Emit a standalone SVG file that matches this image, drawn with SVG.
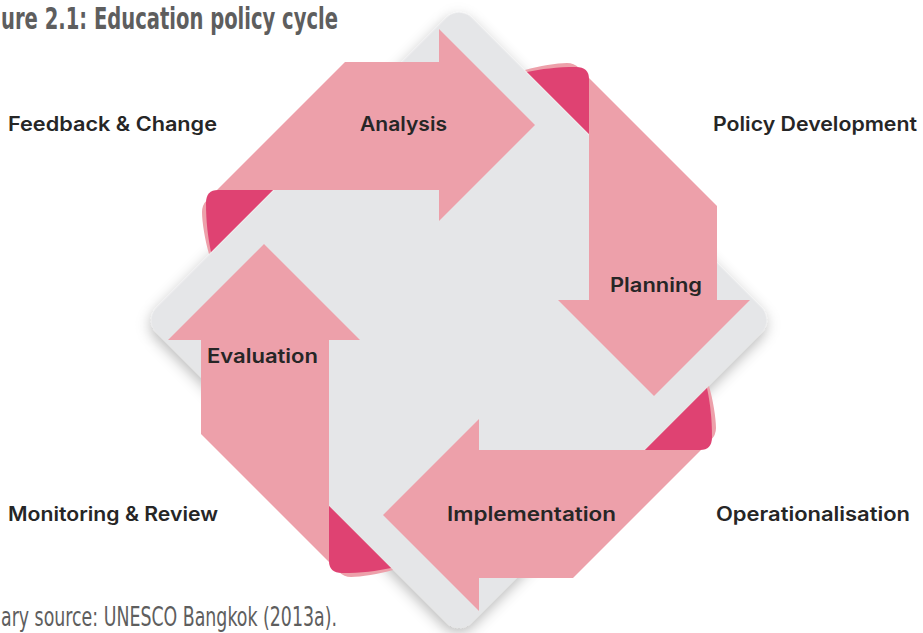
<svg xmlns="http://www.w3.org/2000/svg" width="923" height="633" viewBox="0 0 923 633">
  <style>
    .front { fill: #eda0aa; }
    .back { fill: #df4272; }
    .label { font-family: Inter, "Open Sans", "Liberation Sans", sans-serif; font-weight: 600; font-size: 19.5px; fill: #262626; text-anchor: middle; }
    .cond { font-family: "DejaVu Sans Condensed", "Liberation Sans Narrow", "Liberation Sans", sans-serif; fill: #5e5e5e; }
  </style>
  <defs>
    <filter id="soft" x="-20%" y="-20%" width="140%" height="140%">
      <feGaussianBlur in="SourceAlpha" stdDeviation="7"/>
      <feOffset dx="3" dy="4" result="b"/>
      <feFlood flood-color="#000" flood-opacity="0.28"/>
      <feComposite in2="b" operator="in"/>
      <feMerge>
        <feMergeNode/>
        <feMergeNode in="SourceGraphic"/>
      </feMerge>
    </filter>
    <!-- one arrow of the cycle; the other three are quarter turns of it -->
    <g id="arrowShape">
      <path class="front" d="M345,62 L439,62 L439,29 L535,125 L439,221 L439,190 L273,190 L209,254 C205,240 202,222 202,212 Q202,205 207,200 Z"/>
      <path class="back" d="M273,190 L218,190 Q206,190 206,203 C206,222 208,238 211,252 Z"/>
    </g>
  </defs>

  <text class="cond" x="1" y="29" font-size="31" font-weight="bold" textLength="337" lengthAdjust="spacingAndGlyphs">ure 2.1: Education policy cycle</text>

  <!-- grey base tile -->
  <g id="base">
    <rect x="236.3" y="97.3" width="445.5" height="445.5" rx="18" fill="#e5e6e8" transform="rotate(45 459 320)" filter="url(#soft)"/>
  </g>

  <g id="connectors">
    <use id="arrow-analysis" href="#arrowShape"/>
    <use id="arrow-planning" href="#arrowShape" transform="rotate(90 459 320)"/>
    <use id="arrow-implementation" href="#arrowShape" transform="rotate(180 459 320)"/>
    <use id="arrow-evaluation" href="#arrowShape" transform="rotate(270 459 320)"/>
  </g>

  <g id="node-analysis"><text class="label" x="403.5" y="131" textLength="87" lengthAdjust="spacingAndGlyphs">Analysis</text></g>
  <g id="node-planning"><text class="label" x="656" y="292" textLength="92" lengthAdjust="spacingAndGlyphs">Planning</text></g>
  <g id="node-implementation"><text class="label" x="531.5" y="521" textLength="169" lengthAdjust="spacingAndGlyphs">Implementation</text></g>
  <g id="node-evaluation"><text class="label" x="262.5" y="363" textLength="111" lengthAdjust="spacingAndGlyphs">Evaluation</text></g>

  <g id="node-feedback"><text class="label" x="112.5" y="131" textLength="209" lengthAdjust="spacingAndGlyphs">Feedback &amp; Change</text></g>
  <g id="node-policy"><text class="label" x="815" y="131" textLength="204" lengthAdjust="spacingAndGlyphs">Policy Development</text></g>
  <g id="node-operational"><text class="label" x="813" y="521" textLength="194" lengthAdjust="spacingAndGlyphs">Operationalisation</text></g>
  <g id="node-monitoring"><text class="label" x="113" y="521" textLength="210" lengthAdjust="spacingAndGlyphs">Monitoring &amp; Review</text></g>

  <text class="cond" x="1" y="626" font-size="26" fill="#666" textLength="336" lengthAdjust="spacingAndGlyphs">ary source: UNESCO Bangkok (2013a).</text>
</svg>
